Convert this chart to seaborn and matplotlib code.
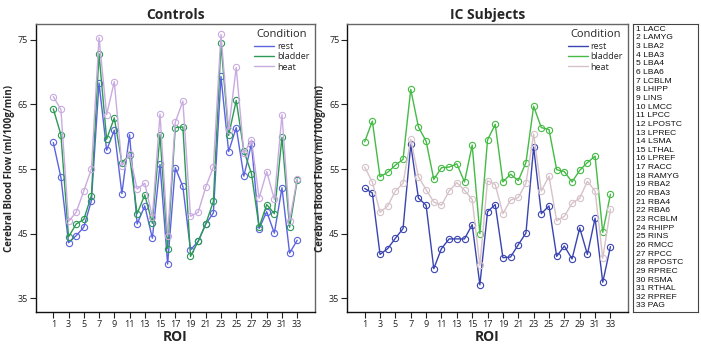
import numpy as np
import pandas as pd
import matplotlib
matplotlib.use("Agg")
import matplotlib.pyplot as plt
import seaborn as sns

# ROI names
roi_names = ["LACC", "LAMYG", "LBA2", "LBA3", "LBA4", "LBA6", "LCBLM", "LHIPP", "LINS",
             "LMCC", "LPCC", "LPOSTC", "LPREC", "LSMA", "LTHAL", "LPREF", "RACC", "RAMYG",
             "RBA2", "RBA3", "RBA4", "RBA6", "RCBLM", "RHIPP", "RINS", "RMCC", "RPCC",
             "RPOSTC", "RPREC", "RSMA", "RTHAL", "RPREF", "PAG"]
roi = list(range(1, 34))

# Controls
ctl_rest = [59.1, 53.7, 43.6, 44.7, 46.0, 50.1, 68.3, 57.9, 61.0, 51.2, 60.3, 46.5, 49.3,
            44.3, 55.7, 40.3, 55.2, 52.3, 42.5, 43.8, 46.5, 48.2, 69.3, 57.7, 61.4, 53.9,
            58.9, 45.8, 48.4, 45.1, 52.1, 42.0, 44.0]
ctl_bladder = [64.3, 60.3, 44.5, 46.5, 47.2, 50.9, 72.8, 59.6, 62.9, 56.0, 57.1, 48.1, 51.0,
               46.6, 60.3, 42.7, 61.4, 61.5, 41.5, 43.8, 46.5, 50.0, 74.4, 60.2, 65.6, 57.8,
               54.3, 46.0, 49.5, 48.1, 59.9, 46.0, 53.3]
ctl_heat = [66.2, 64.2, 46.9, 48.3, 51.6, 55.0, 75.3, 63.4, 68.5, 55.5, 57.3, 51.9, 52.8,
            47.6, 63.5, 44.6, 62.2, 65.5, 47.7, 48.3, 52.2, 55.3, 75.8, 61.1, 70.7, 57.4,
            59.5, 50.5, 54.6, 50.3, 63.4, 47.0, 53.5]

# IC subjects
ic_rest = [52.0, 51.3, 41.8, 42.7, 44.3, 45.8, 58.8, 50.5, 49.4, 39.6, 42.7, 44.2, 44.2,
           44.2, 46.4, 37.1, 48.4, 49.5, 41.3, 41.4, 43.3, 45.1, 58.4, 48.1, 49.3, 41.5,
           43.1, 41.1, 45.9, 41.8, 47.4, 37.5, 43.0]
ic_bladder = [59.2, 62.4, 53.8, 54.5, 55.6, 56.5, 67.3, 61.5, 59.3, 53.4, 55.2, 55.3, 55.8,
              53.0, 58.7, 45.0, 59.5, 61.9, 53.0, 54.2, 53.2, 56.0, 64.7, 61.4, 61.1, 54.9,
              54.6, 53.0, 54.8, 56.0, 57.0, 45.2, 51.1]
ic_heat = [55.3, 53.0, 48.3, 49.3, 51.6, 52.8, 59.6, 53.8, 51.8, 49.9, 49.4, 51.6, 52.9,
           51.7, 50.3, 40.1, 53.2, 52.6, 48.1, 50.2, 50.6, 52.8, 60.4, 51.6, 53.9, 47.0,
           47.7, 49.7, 50.5, 53.1, 51.6, 41.2, 48.8]

conditions = ["rest", "bladder", "heat"]
ctl_colors = ["#5b63e0", "#2a9a55", "#c9abe0"]
ic_colors = ["#3a44b0", "#44bb44", "#d6c2c8"]


def make_df(rest, bladder, heat):
    return pd.DataFrame({
        "ROI": roi * 3,
        "CBF": rest + bladder + heat,
        "Condition": ["rest"] * 33 + ["bladder"] * 33 + ["heat"] * 33,
    })


sns.set_style("white")
plt.rcParams["font.family"] = ["Open Sans", "DejaVu Sans"]

fig = plt.figure(figsize=(7.01, 3.49), dpi=100)
ax1 = fig.add_axes([0.051, 0.106, 0.398, 0.825])
ax2 = fig.add_axes([0.495, 0.106, 0.401, 0.825])
ax3 = fig.add_axes([0.903, 0.106, 0.093, 0.825])

panels = [
    (ax1, make_df(ctl_rest, ctl_bladder, ctl_heat), ctl_colors, "Controls"),
    (ax2, make_df(ic_rest, ic_bladder, ic_heat), ic_colors, "IC Subjects"),
]

for ax, df, cols, title in panels:
    sns.lineplot(data=df, x="ROI", y="CBF", hue="Condition", hue_order=conditions,
                 palette=cols, marker="o", markersize=4.5, lw=1.0, ax=ax)
    for line in ax.lines:
        line.set_markerfacecolor("none")
        line.set_markeredgecolor(line.get_color())
        line.set_markeredgewidth(0.8)
    ax.set_xlim(-1.3, 35.3)
    ax.set_ylim(32.9, 77.4)
    ax.set_xticks(range(1, 34, 2))
    ax.set_yticks([35, 45, 55, 65, 75])
    ax.tick_params(axis="both", labelsize=6.5, length=4, width=0.8, colors="#222",
                   bottom=True, left=True, pad=1.5)
    ax.set_title(title, fontsize=10, fontweight="bold", pad=4)
    ax.set_xlabel("ROI", fontsize=10, fontweight="bold", labelpad=1)
    ax.set_ylabel("Cerebral Blood Flow (ml/100g/min)", fontsize=7, fontweight="bold", labelpad=2)
    for side in ["left", "bottom"]:
        ax.spines[side].set_color("#111")
        ax.spines[side].set_linewidth(1.0)
    for side in ["top", "right"]:
        ax.spines[side].set_color("#666")
        ax.spines[side].set_linewidth(1.0)
    leg = ax.legend(title="Condition", loc="upper right", frameon=False, fontsize=6.5,
                    title_fontsize=8, handlelength=2.2, handletextpad=0.3,
                    labelspacing=0.15, borderaxespad=0.2)
    for h in leg.get_lines():
        h.set_marker("")

# ROI key
ax3.set_xticks([])
ax3.set_yticks([])
for s in ax3.spines.values():
    s.set_color("#444")
    s.set_linewidth(0.8)
for i, name in enumerate(roi_names):
    ax3.text(0.05, 1 - (i + 0.6) / 33.3, f"{i + 1} {name}", transform=ax3.transAxes,
             fontsize=6.1, family="Liberation Sans", va="center", ha="left", color="#111")

fig.savefig("out.png", dpi=100)
